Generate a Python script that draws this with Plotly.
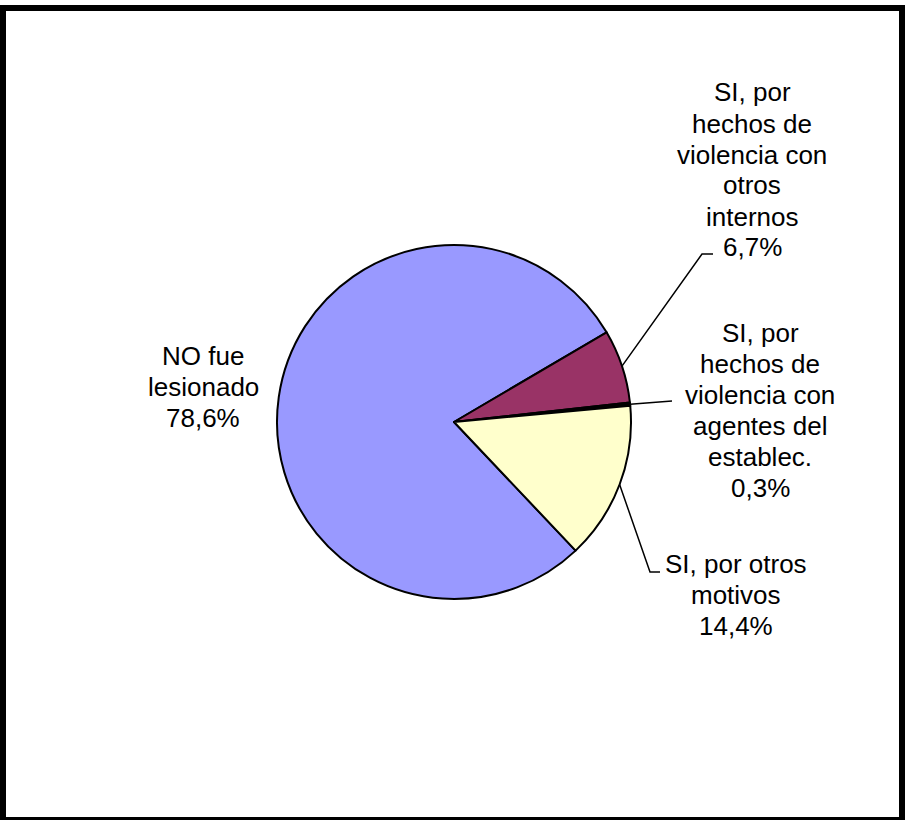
import math
import plotly.graph_objects as go

# ---- data ----
labels = [
    "NO fue lesionado",
    "SI, por hechos de violencia con otros internos",
    "SI, por hechos de violencia con agentes del establec.",
    "SI, por otros motivos",
]
label_lines = [
    ["NO fue", "lesionado"],
    ["SI, por", "hechos de", "violencia con", "otros", "internos"],
    ["SI, por", "hechos de", "violencia con", "agentes del", "establec."],
    ["SI, por otros", "motivos"],
]
values = [78.6, 6.7, 0.3, 14.4]
colors = ["#9999FF", "#993366", "#000000", "#FFFFCC"]

# ---- layout geometry (pixels) ----
W, H = 906, 820
CX, CY, R = 454, 422, 177
ROT = 136.6
FONT = dict(family="Arial, Liberation Sans, sans-serif", size=26, color="#000000")
LINE_H = 31

label_pos = [(203, 387), (752, 170), (760, 410), (736, 595)]
# elbow points of leader lines (None = no leader)
leader_elbows = [None, [(702, 254), (713, 254)], [(672, 401)], [(650, 572), (660, 572)]]


def px(x):
    return x / W


def py(y):
    return 1 - y / H


total = sum(values)

fig = go.Figure(
    go.Pie(
        labels=labels,
        values=values,
        sort=False,
        direction="clockwise",
        rotation=ROT,
        textinfo="none",
        hoverinfo="label+percent",
        marker=dict(colors=colors, line=dict(color="#000000", width=2)),
        showlegend=False,
        domain=dict(x=[px(CX - R), px(CX + R)], y=[py(CY + R), py(CY - R)]),
    )
)

annotations = []
shapes = []
cum = 0.0
for i, v in enumerate(values):
    start = ROT + 360 * cum / total
    mid = math.radians(start + 360 * v / total / 2)
    cum += v
    sx = CX + R * math.sin(mid)
    sy = CY - R * math.cos(mid)
    pct = f"{v:.1f}".replace(".", ",") + "%"
    lines = label_lines[i] + [pct]
    lx, ly = label_pos[i]
    n = len(lines)
    for k, t in enumerate(lines):
        yy = ly + (k - (n - 1) / 2) * LINE_H
        annotations.append(
            dict(
                x=px(lx), y=py(yy), xref="paper", yref="paper",
                text=t, showarrow=False, xanchor="center", yanchor="middle",
                align="center", font=FONT,
            )
        )
    if leader_elbows[i]:
        pts = [(sx, sy)] + leader_elbows[i]
        path = "M " + " L ".join(f"{px(x)},{py(y)}" for x, y in pts)
        shapes.append(
            dict(type="path", path=path, xref="paper", yref="paper",
                 line=dict(color="#000000", width=1.5))
        )

# outer frame
shapes.append(
    dict(type="rect", xref="paper", yref="paper",
         x0=px(3), x1=px(902), y0=py(8), y1=py(820),
         line=dict(color="#000000", width=6), fillcolor="rgba(0,0,0,0)")
)

fig.update_layout(
    width=W, height=H,
    margin=dict(l=0, r=0, t=0, b=0),
    paper_bgcolor="#FFFFFF", plot_bgcolor="#FFFFFF",
    annotations=annotations, shapes=shapes,
    font=FONT,
)

fig.write_html(
    "out.html",
    config={"displayModeBar": False},
    post_script="document.body.style.margin='0';document.body.style.overflow='hidden';",
)
